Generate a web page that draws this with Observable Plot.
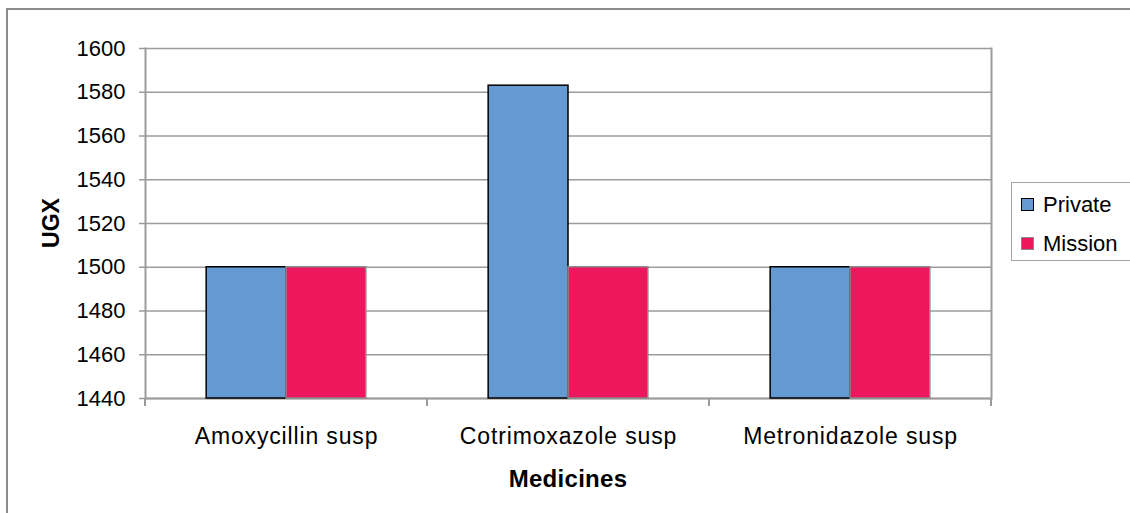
<!DOCTYPE html>
<html>
<head>
<meta charset="utf-8">
<script src="https://cdn.jsdelivr.net/npm/d3@7"></script>
<script src="https://cdn.jsdelivr.net/npm/@observablehq/plot@0.6"></script>
<style>
  html, body { margin: 0; padding: 0; background: #fff; }
  #wrap { position: relative; width: 1130px; height: 513px; overflow: hidden; background: #fff;
          font-family: "Liberation Sans", Arial, sans-serif; }
  #outer { position: absolute; left: 6px; top: 8px; width: 1200px; height: 600px;
           border: 2px solid #8c8c8c; box-sizing: border-box; pointer-events: none; }
  #chart { position: absolute; left: 0; top: 0; }
  #legend { position: absolute; left: 1011px; top: 182px; width: 140px; height: 79px;
            border: 1.5px solid #a6a6a6; box-sizing: border-box; background: #fff; }
  .sw { position: absolute; width: 13px; height: 13px; box-sizing: border-box; border: 1.5px solid #000; }
  .lt { position: absolute; font-size: 22px; line-height: 22px; color: #000; white-space: nowrap; }
</style>
</head>
<body>
<div id="wrap">
  <div id="chart"></div>
  <div id="outer"></div>
  <div id="legend"></div>
</div>
<script>
// ---- data ----
const medicines = ["Amoxycillin susp", "Cotrimoxazole susp", "Metronidazole susp"];
const seriesNames = ["Private", "Mission"];
const privateValues = [1500, 1583, 1500];
const missionValues = [1500, 1500, 1500];
const yTicks = [1440, 1460, 1480, 1500, 1520, 1540, 1560, 1580, 1600];
const yMin = 1440, yMax = 1600;
const seriesColors = ["#6599D1", "#EE165C"];
const seriesStrokes = ["#000000", "#8a8a8a"];
const yTitle = "UGX";
const xTitle = "Medicines";

const rows = medicines.flatMap((m, i) => [
  {medicine: m, series: seriesNames[0], value: privateValues[i]},
  {medicine: m, series: seriesNames[1], value: missionValues[i]}
]);

const font = '"Liberation Sans", Arial, sans-serif';
const gridColor = "#9c9c9c";

const plot = Plot.plot({
  width: 1130,
  height: 513,
  marginLeft: 144,
  marginRight: 138,
  marginTop: 48,
  marginBottom: 115,
  style: {fontFamily: font, fontSize: "22px", background: "transparent", color: "#000", overflow: "visible"},
  fx: {domain: medicines, padding: 0, label: null},
  x: {domain: seriesNames, paddingInner: 0, paddingOuter: 0.766, round: false, axis: null},
  y: {domain: [yMin, yMax], label: null},
  color: {domain: seriesNames, range: seriesColors},
  marks: [
    Plot.gridY(yTicks, {stroke: gridColor, strokeOpacity: 1, strokeWidth: 1.5}),
    Plot.ruleY([yMin], {stroke: gridColor, strokeWidth: 2}),
    Plot.frame({anchor: "left", facetAnchor: "left", stroke: gridColor, strokeWidth: 2}),
    Plot.frame({anchor: "right", facetAnchor: "right", stroke: gridColor, strokeWidth: 2}),
    Plot.barY(rows, {
      fx: "medicine", x: "series", y1: yMin, y2: "value", fill: "series",
      stroke: d => seriesStrokes[seriesNames.indexOf(d.series)], strokeWidth: 1.5
    }),
    Plot.axisY(yTicks, {tickSize: 6, tickPadding: 14, stroke: gridColor, strokeWidth: 1.5, fill: "#000",
      fontSize: 22, label: null, tickFormat: d => String(d)}),
    Plot.axisFx({anchor: "bottom", tickSize: 0, tickPadding: 29, fontSize: 23, fill: "#000", label: null})
  ]
});

document.getElementById("chart").appendChild(plot);

const svg = d3.select(plot);
// slightly wider category labels, as in the reference
svg.selectAll('g[aria-label="fx-axis tick label"] text').attr("letter-spacing", "0.85px");

// boundary tick marks below the category axis, from the fx scale
const fx = plot.scale("fx");
const ys = plot.scale("y");
const y0 = ys.apply(yMin);
const edges = medicines.map(m => fx.apply(m)).concat([fx.apply(medicines[medicines.length - 1]) + fx.bandwidth]);
svg.append("g").selectAll("line").data(edges).join("line")
  .attr("x1", d => d).attr("x2", d => d)
  .attr("y1", y0).attr("y2", y0 + 8)
  .attr("stroke", gridColor).attr("stroke-width", 2);

// axis titles
const xMid = (fx.range[0] + fx.range[1]) / 2;
const yMid = (ys.range[0] + ys.range[1]) / 2;
svg.append("text").text(xTitle)
  .attr("x", xMid).attr("y", 487)
  .attr("text-anchor", "middle").attr("font-weight", "bold")
  .attr("font-size", 24).attr("font-family", font).attr("fill", "#000")
  .attr("letter-spacing", "0.3px");
svg.append("text").text(yTitle)
  .attr("transform", `translate(59,${yMid}) rotate(-90)`)
  .attr("text-anchor", "middle").attr("font-weight", "bold")
  .attr("font-size", 23).attr("font-family", font).attr("fill", "#000");

// legend
const legend = document.getElementById("legend");
seriesNames.forEach((s, i) => {
  const sw = document.createElement("div");
  sw.className = "sw";
  sw.style.left = "9px";
  sw.style.top = (15 + i * 39) + "px";
  sw.style.background = seriesColors[i];
  sw.style.borderColor = seriesStrokes[i];
  legend.appendChild(sw);
  const t = document.createElement("div");
  t.className = "lt";
  t.style.left = "31px";
  t.style.top = (11 + i * 39) + "px";
  t.textContent = s;
  legend.appendChild(t);
});
</script>
</body>
</html>
